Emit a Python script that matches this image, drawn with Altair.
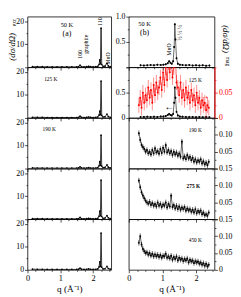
import altair as alt
import pandas as pd

FONT = "Liberation Serif"
WL, WR, H = 86, 88, 52
XMAX = 2.55

# ---------------- data: left column (a) ----------------
qL = [0.15, 0.3, 0.45, 0.6, 0.75, 0.9, 1.05, 1.2, 1.35, 1.5,
      1.56, 1.6, 1.64, 1.72, 1.8, 1.86, 1.92, 2.0, 2.08, 2.14,
      2.18, 2.2, 2.22, 2.24, 2.26, 2.3, 2.36, 2.42, 2.46, 2.52]
IL_50 = [0.3, 0.25, 0.25, 0.2, 0.2, 0.2, 0.2, 0.2, 0.2, 0.2,
         0.3, 0.9, 0.3, 0.2, 0.25, 0.45, 0.25, 0.2, 0.25, 0.4,
         1.2, 3.2, 1.5, 17, 1.2, 0.4, 0.5, 1.8, 0.6, 0.3]
IL_125 = [0.3, 0.25, 0.25, 0.2, 0.2, 0.2, 0.2, 0.2, 0.2, 0.2,
          0.3, 0.8, 0.3, 0.2, 0.25, 0.4, 0.25, 0.2, 0.25, 0.4,
          1.2, 3.0, 1.4, 16, 1.1, 0.4, 0.5, 1.7, 0.6, 0.3]
IL_190 = [0.3, 0.25, 0.25, 0.2, 0.2, 0.2, 0.2, 0.2, 0.2, 0.2,
          0.3, 0.8, 0.3, 0.2, 0.25, 0.4, 0.25, 0.2, 0.25, 0.4,
          1.2, 3.0, 1.4, 14.5, 1.1, 0.4, 0.5, 1.6, 0.6, 0.3]
IL_275 = [0.3, 0.25, 0.25, 0.2, 0.2, 0.2, 0.2, 0.2, 0.2, 0.2,
          0.3, 0.8, 0.3, 0.2, 0.25, 0.4, 0.25, 0.2, 0.25, 0.4,
          1.3, 3.5, 1.5, 17, 1.2, 0.4, 0.5, 1.6, 0.6, 0.3]
IL_450 = [0.3, 0.25, 0.25, 0.2, 0.2, 0.2, 0.2, 0.2, 0.2, 0.2,
          0.3, 0.8, 0.3, 0.2, 0.25, 0.4, 0.25, 0.2, 0.25, 0.4,
          1.3, 3.5, 1.5, 16, 1.2, 0.4, 0.5, 1.5, 0.6, 0.3]

# ---------------- data: right column (b) ----------------
qB = [0.35, 0.45, 0.55, 0.65, 0.75, 0.85, 0.95, 1.03, 1.1, 1.16,
      1.2, 1.24, 1.28, 1.32, 1.35, 1.37, 1.39, 1.42, 1.46, 1.52,
      1.6, 1.7, 1.8, 1.9, 2.0, 2.1, 2.2, 2.3, 2.4]
B_50 = [0.04, 0.035, 0.04, 0.045, 0.04, 0.05, 0.045, 0.05, 0.06, 0.08,
        0.12, 0.09, 0.07, 0.12, 0.4, 0.85, 0.55, 0.18, 0.07, 0.05,
        0.045, 0.04, 0.045, 0.035, 0.04, 0.035, 0.04, 0.03, 0.035]
B_125 = [0.02, 0.02, 0.025, 0.02, 0.025, 0.02, 0.03, 0.03, 0.04, 0.06,
         0.08, 0.06, 0.05, 0.08, 0.3, 0.6, 0.4, 0.12, 0.05, 0.03,
         0.025, 0.02, 0.02, 0.02, 0.015, 0.02, 0.015, 0.02, 0.015]
ERR_B = 0.02

qR = [0.30, 0.34, 0.38, 0.42, 0.46, 0.50, 0.54, 0.58, 0.62, 0.66,
      0.70, 0.74, 0.78, 0.82, 0.86, 0.90, 0.94, 0.98, 1.02, 1.06,
      1.10, 1.14, 1.18, 1.22, 1.26, 1.30, 1.34, 1.38, 1.42, 1.46,
      1.50, 1.54, 1.58, 1.62, 1.66, 1.70, 1.74, 1.78, 1.82, 1.86,
      1.90, 1.94, 1.98, 2.02, 2.06, 2.10, 2.14, 2.18, 2.22, 2.26,
      2.30, 2.34, 2.38]
RED_125 = [0.025, 0.04, 0.02, 0.05, 0.03, 0.045, 0.035, 0.06, 0.04, 0.055,
           0.03, 0.065, 0.045, 0.07, 0.05, 0.06, 0.08, 0.055, 0.09, 0.065,
           0.10, 0.075, 0.11, 0.09, 0.12, 0.08, 0.10, 0.13, 0.07, 0.06,
           0.045, 0.07, 0.04, 0.055, 0.035, 0.06, 0.04, 0.05, 0.03, 0.055,
           0.035, 0.045, 0.025, 0.05, 0.03, 0.04, 0.02, 0.035, 0.025, 0.03,
           0.015, 0.025, 0.02]
M_190 = [0.105, 0.085, 0.07, 0.064, 0.058, 0.05, 0.055, 0.045, 0.05, 0.042,
         0.055, 0.045, 0.06, 0.048, 0.052, 0.044, 0.058, 0.046, 0.062, 0.05,
         0.07, 0.048, 0.055, 0.045, 0.052, 0.04, 0.05, 0.042, 0.048, 0.038,
         0.045, 0.035, 0.08, 0.03, 0.036, 0.028, 0.04, 0.03, 0.035, 0.025,
         0.032, 0.02, 0.028, 0.018, 0.025, 0.02, 0.028, 0.015, 0.022, 0.012,
         0.018, 0.01, 0.02]
M_275 = [0.115, 0.095, 0.08, 0.07, 0.062, 0.055, 0.05, 0.046, 0.052, 0.042,
         0.048, 0.04, 0.045, 0.038, 0.05, 0.04, 0.046, 0.036, 0.044, 0.04,
         0.05, 0.035, 0.045, 0.038, 0.07, 0.036, 0.042, 0.032, 0.04, 0.03,
         0.038, 0.028, 0.035, 0.03, 0.036, 0.025, 0.032, 0.026, 0.03, 0.022,
         0.028, 0.02, 0.03, 0.018, 0.025, 0.02, 0.026, 0.015, 0.02, 0.012,
         0.015, 0.01, 0.02]
M_450 = [0.08, 0.10, 0.075, 0.062, 0.055, 0.05, 0.052, 0.045, 0.05, 0.042,
         0.048, 0.04, 0.046, 0.04, 0.045, 0.038, 0.044, 0.036, 0.042, 0.04,
         0.048, 0.036, 0.04, 0.034, 0.042, 0.03, 0.038, 0.032, 0.04, 0.028,
         0.036, 0.03, 0.034, 0.026, 0.032, 0.028, 0.034, 0.022, 0.03, 0.025,
         0.028, 0.02, 0.026, 0.022, 0.025, 0.018, 0.022, 0.015, 0.02, 0.012,
         0.018, 0.01, 0.015]
ERR_R = 0.015
ERR_M = 0.008

# ---------------- annotations (q, value, text) ----------------
NOTE_A_TEMP = [(1.2, 18.5, "50 K")]
NOTE_A_LET = [(1.2, 14.3, "(a)")]
NOTE_A_PEAKS = [(1.59, 5.6, "100"), (1.78, 10.0, "graphite"),
                (2.22, 19.8, "110"), (2.44, 3.8, "MnO")]
NOTE_L_TEMPS = [None, (0.71, 17.0, "125 K"), (0.66, 17.0, "190 K"), None, None]

NOTE_B_TEMP = [(0.47, 0.86, "50 K")]
NOTE_B_LET = [(0.47, 0.67, "(b)")]
NOTE_B_PEAKS = [(1.21, 0.35, "MnO"), (1.52, 0.68, "½ ½ ½")]
NOTE_125 = [(1.98, 0.75, "125 K")]
ARROW_BLACK = [(1.21, 0.21, "←")]
ARROW_RED = [(2.26, 0.044, "→")]
NOTE_M = [(1.98, 0.115, "190 K"), (1.92, 0.098, "275 K"), (1.98, 0.089, "450 K")]

X_TICKS = [0, 0.25, 0.5, 0.75, 1, 1.25, 1.5, 1.75, 2, 2.25, 2.5]
LBL = 8


def tsz(test):
    return {"condition": {"test": test, "value": 3}, "value": 1.5}


def xscale():
    return alt.Scale(domain=[0, XMAX], nice=False, zero=False)


def x_axis(bottom):
    if bottom:
        return alt.Axis(values=X_TICKS,
                        labelExpr="datum.value % 1 === 0 ? format(datum.value, 'd') : ''",
                        labelFlush=False, labelOverlap=False, tickSize=tsz("datum.value % 1 === 0"),
                        domain=False, grid=False, labelFontSize=8.5, labelPadding=1,
                        title="q (Å⁻¹)", titleFontSize=9.5, titleFontWeight="normal",
                        titlePadding=2)
    return alt.Axis(values=X_TICKS, labels=False, tickSize=tsz("datum.value % 1 === 0"),
                    domain=False, grid=False, title=None)


def text_layer(rows, yscale, xax, yax, size, angle=0, color="black", style="normal", weight="normal"):
    df = pd.DataFrame(rows, columns=["q", "v", "t"])
    return alt.Chart(df).mark_text(font=FONT, fontSize=size, angle=angle, color=color,
                                   fontStyle=style, fontWeight=weight,
                                   align="center", baseline="middle").encode(
        x=alt.X("q:Q", scale=xscale(), axis=xax),
        y=alt.Y("v:Q", scale=yscale, axis=yax),
        text="t:N")


def fixed_text(t, px, py, size, angle, style="normal"):
    df = pd.DataFrame({"t": [t]})
    return alt.Chart(df).mark_text(font=FONT, fontSize=size, angle=angle, fontStyle=style,
                                   color="black", align="center", baseline="middle").encode(
        x=alt.value(px), y=alt.value(py), text="t:N")


# ---------------- left column ----------------
def left_panel(I, idx):
    bottom = idx == 4
    ys = alt.Scale(domain=[0, 22], nice=False)
    if bottom:
        expr = "datum.value % 10 === 0 ? format(datum.value, 'd') : ''"
    else:
        expr = "datum.value === 10 || datum.value === 20 ? format(datum.value, 'd') : ''"
    yax = alt.Axis(values=[0, 5, 10, 15, 20], labelExpr=expr, labelOverlap=False,
                   tickSize=tsz("datum.value % 10 === 0"), domain=False, grid=False, title=None,
                   labelFontSize=LBL, labelPadding=1)
    xax = x_axis(bottom)
    df = pd.DataFrame({"q": qL, "v": I})
    base = alt.Chart(df).encode(x=alt.X("q:Q", scale=xscale(), axis=xax),
                                y=alt.Y("v:Q", scale=ys, axis=yax))
    layers = [base.mark_line(color="black", strokeWidth=0.8, clip=True),
              base.mark_point(filled=True, size=3, color="black", opacity=1, clip=True)]
    if idx == 0:
        layers.append(text_layer(NOTE_A_TEMP, ys, xax, yax, 6.5))
        layers.append(text_layer(NOTE_A_LET, ys, xax, yax, 8))
        layers.append(text_layer(NOTE_A_PEAKS, ys, xax, yax, 6, angle=270))
        layers.append(fixed_text("(dσ/dΩ)", -15.5, 31, 9, 270, style="italic"))
        layers.append(fixed_text("exc", -13.5, 6, 5.5, 270))
    elif NOTE_L_TEMPS[idx] is not None:
        layers.append(text_layer([NOTE_L_TEMPS[idx]], ys, xax, yax, 5.5))
    return alt.layer(*layers).properties(width=WL, height=H)


# ---------------- right column ----------------
def err_df(q, v, e):
    df = pd.DataFrame({"q": q, "v": v})
    df["lo"] = df["v"] - e
    df["hi"] = df["v"] + e
    return df


def series_layers(df, ys, xax, yax, color, ptsize=4, ebop=1.0):
    X = alt.X("q:Q", scale=xscale(), axis=xax)
    line = alt.Chart(df).mark_line(color=color, strokeWidth=0.6, clip=True).encode(
        x=X, y=alt.Y("v:Q", scale=ys, axis=yax))
    eb = alt.Chart(df).mark_rule(color=color, strokeWidth=0.6, opacity=ebop, clip=True).encode(
        x=X, y=alt.Y("lo:Q", scale=ys, axis=yax), y2="hi:Q")
    pts = alt.Chart(df).mark_point(filled=True, size=ptsize, color=color, opacity=1, clip=True).encode(
        x=X, y=alt.Y("v:Q", scale=ys, axis=yax))
    return [line, eb, pts]


def right_panel(idx):
    bottom = idx == 4
    xax = x_axis(bottom)
    if idx in (0, 1):
        ys = alt.Scale(domain=[0, 1], nice=False)
        if idx == 0:
            expr = "datum.value === 0.5 || datum.value === 1 ? format(datum.value, '.1f') : ''"
            vals = B_50
        else:
            expr = "datum.value === 0 ? '0' : (datum.value === 0.5 ? '0.5' : '')"
            vals = B_125
        yax = alt.Axis(values=[0, 0.25, 0.5, 0.75, 1], labelExpr=expr, labelOverlap=False,
                       tickSize=tsz("datum.value === 0.5 || datum.value === 1 || datum.value === 0"),
                       domain=False, grid=False, title=None, labelFontSize=LBL, labelPadding=1,
                       orient="left")
        black = series_layers(err_df(qB, vals, ERR_B), ys, xax, yax, "black")
        if idx == 0:
            black.append(text_layer(NOTE_B_TEMP, ys, xax, yax, 6.5))
            black.append(text_layer(NOTE_B_LET, ys, xax, yax, 8))
            black.append(text_layer(NOTE_B_PEAKS, ys, xax, yax, 6, angle=270))
            black.append(fixed_text("(dσ/dΩ)", WR + 12, 23, 9, 90, style="italic"))
            black.append(fixed_text("mag", WR + 13.5, 46, 5.5, 90))
            return alt.layer(*black).properties(width=WR, height=H)
        black.append(text_layer(NOTE_125, ys, xax, yax, 5.5))
        black.append(text_layer(ARROW_BLACK, ys, xax, yax, 10))
        rs = alt.Scale(domain=[0, 0.1], nice=False)
        rax = alt.Axis(values=[0, 0.025, 0.05, 0.075, 0.1], orient="right",
                       labelExpr="datum.value === 0 ? '0' : (datum.value === 0.05 ? '0.05' : '')",
                       labelOverlap=False, tickSize=tsz("datum.value === 0 || datum.value === 0.05"),
                       domain=True, domainColor="red", domainWidth=1, tickColor="red",
                       grid=False, labelColor="red", title=None, labelFontSize=LBL, labelPadding=1)
        red = series_layers(err_df(qR, RED_125, ERR_R), rs, xax, rax, "red", ptsize=4, ebop=0.75)
        red.append(text_layer(ARROW_RED, rs, xax, rax, 10, color="red"))
        return alt.layer(alt.layer(*black), alt.layer(*red)).resolve_scale(
            y="independent").properties(width=WR, height=H)

    vals = {2: M_190, 3: M_275, 4: M_450}[idx]
    ys = alt.Scale(domain=[0, 0.15], nice=False)
    if idx == 2:
        expr = "datum.value === 0.05 || datum.value === 0.1 ? format(datum.value, '.2f') : ''"
    elif idx == 3:
        expr = "datum.value === 0.05 || datum.value === 0.1 || datum.value === 0.15 ? format(datum.value, '.2f') : ''"
    else:
        expr = "datum.value === 0 ? '0' : (datum.value === 0.05 || datum.value === 0.1 || datum.value === 0.15 ? format(datum.value, '.2f') : '')"
    yax = alt.Axis(values=[0, 0.025, 0.05, 0.075, 0.1, 0.125, 0.15], orient="right",
                   labelExpr=expr, labelOverlap=False,
                   tickSize=tsz("datum.value === 0 || datum.value === 0.05 || datum.value === 0.1 || datum.value === 0.15"),
                   domain=False, grid=False, title=None, labelFontSize=LBL, labelPadding=1)
    layers = series_layers(err_df(qR, vals, ERR_M), ys, xax, yax, "black")
    layers.append(text_layer([NOTE_M[idx - 2]], ys, xax, yax, 5.5,
                             weight="bold" if idx == 3 else "normal"))
    return alt.layer(*layers).properties(width=WR, height=H)


left_col = alt.vconcat(*[left_panel(I, i) for i, I in enumerate([IL_50, IL_125, IL_190, IL_275, IL_450])],
                       spacing=0, bounds="flush")
right_col = alt.vconcat(*[right_panel(i) for i in range(5)], spacing=0, bounds="flush")

chart = alt.hconcat(left_col, right_col, spacing=2).properties(
    padding=0
).configure(font=FONT).configure_view(stroke="black", strokeWidth=0.8).configure_axis(
    labelFont=FONT, titleFont=FONT, labelColor="black", tickColor="black", tickWidth=0.7,
    titleColor="black", grid=False)

chart.save("out.html", embed_options={"renderer": "svg", "actions": False})
